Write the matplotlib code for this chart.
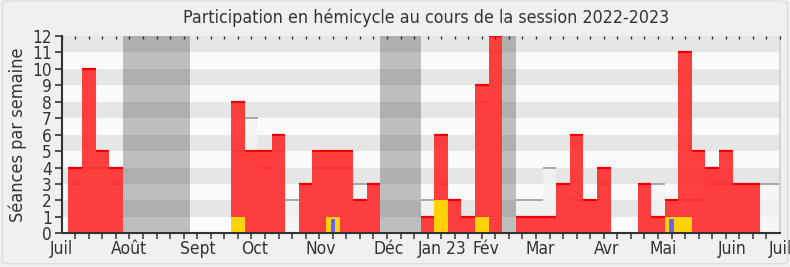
import matplotlib
matplotlib.use("Agg")
import matplotlib.pyplot as plt
from matplotlib.patches import FancyBboxPatch

plt.rcParams['font.family'] = ['DejaVu Sans']
plt.rcParams['font.stretch'] = 'condensed'

# ---- data -------------------------------------------------------------
weeks = list(range(1, 54))
presence = [4, 10, 5, 4, 0, 0, 0, 0, 0, 0, 0, 0, 8, 5, 5, 6, 0, 3, 5, 5,
            5, 2, 3, 0, 0, 0, 1, 6, 2, 1, 9, 12, 0, 1, 1, 1, 3, 6, 2, 4,
            0, 0, 3, 1, 2, 11, 5, 4, 5, 3, 3, 0, 0]
interventions = [0, 0, 0, 0, 0, 0, 0, 0, 0, 0, 0, 0, 1, 0, 0, 0, 0, 0, 0, 1,
                 0, 0, 0, 0, 0, 0, 0, 2, 0, 0, 1, 0, 0, 0, 0, 0, 0, 0, 0, 0,
                 0, 0, 0, 0, 1, 1, 0, 0, 0, 0, 0, 0, 0]
questions = [0, 0, 0, 0, 0, 0, 0, 0, 0, 0, 0, 0, 0, 0, 0, 0, 0, 0, 0, 0.9,
             0, 0, 0, 0, 0, 0, 0, 0, 0, 0, 0, 0, 0, 0, 0, 0, 0, 0, 0, 0,
             0, 0, 0, 0, 0.9, 0, 0, 0, 0, 0, 0, 0, 0]
mediane = [3, 4, 4, 3, 0, 0, 0, 0, 0, 0, 0, 0, 5, 7, 4, 5, 2, 3, 4, 4,
           4, 3, 3, 0, 0, 0, 2, 3, 2, 1, 8, 11, 0, 2, 2, 4, 3, 2, 2, 3,
           0, 0, 3, 3, 2, 2, 2, 3, 3, 3, 3, 3, 3]
vacances = [5, 6, 7, 8, 9, 24, 25, 26, 33]
month_labels = ['Juil', 'Août', 'Sept', 'Oct', 'Nov', 'Déc', 'Jan 23', 'Fév',
                'Mar', 'Avr', 'Mai', 'Juin', 'Juil']
month_pos = [0, 4.95, 10.05, 14.2, 19.1, 24.1, 28.05, 31.3, 35.3, 40.2, 44.4,
             49.5, 53.0]
y_max = 12
n_weeks = 53

# ---- figure -----------------------------------------------------------
fig = plt.figure(figsize=(7.9, 2.67), dpi=100)
fig.patch.set_facecolor('#f0f0f0')
fig.patches.append(FancyBboxPatch((0.003, 0.012), 0.994, 0.984,
                                  boxstyle="round,pad=0,rounding_size=0.01",
                                  transform=fig.transFigure, fc='none',
                                  ec='#dcdcdc', lw=1.0))
ax = fig.add_axes([0.0781, 0.126, 0.9092, 0.739])
ax.set_facecolor('#fafafa')
ax.set_xlim(0, n_weeks)
ax.set_ylim(0, y_max)

# background stripes
for r in range(1, y_max, 2):
    ax.axhspan(r, r + 1, color='#e6e6e6', lw=0, zorder=0)

# median bars
ax.bar(weeks, mediane, width=1.0, color='#f4f4f4', alpha=0.75, lw=0,
       antialiased=False, zorder=1)
med_w = [w for w, m in zip(weeks, mediane) if m > 0]
med_v = [m for m in mediane if m > 0]
ax.hlines(med_v, [w - 0.5 for w in med_w], [w + 0.5 for w in med_w],
          colors='#a8a8a8', lw=1.4, zorder=1.5)

# vacations
ax.bar(vacances, [y_max] * len(vacances), width=1.0, color='black',
       alpha=0.24, lw=0, antialiased=False, zorder=2)

# presence
ax.bar(weeks, presence, width=1.0, color='#ff2a2a', alpha=0.9, lw=0,
       antialiased=False, zorder=3)
pr_w = [w for w, p in zip(weeks, presence) if p > 0]
pr_v = [p for p in presence if p > 0]
ax.hlines(pr_v, [w - 0.5 for w in pr_w], [w + 0.5 for w in pr_w],
          colors='#ee0000', lw=1.6, zorder=3.5)

# interventions
ax.bar(weeks, interventions, width=1.0, color='#ffd20a', lw=0,
       antialiased=False, zorder=4)
# questions
ax.bar(weeks, questions, width=0.33, color='#6666ff', lw=0,
       antialiased=False, zorder=5)

# axes styling
ax.spines['top'].set_visible(False)
ax.spines['right'].set_color('#cfcfcf')
ax.spines['right'].set_linewidth(1.2)
for s in ['left', 'bottom']:
    ax.spines[s].set_color('#333333')
    ax.spines[s].set_linewidth(1.5)
    ax.spines[s].set_zorder(10)

ax.set_yticks(range(0, y_max + 1))
ax.tick_params(axis='y', length=5, width=1.2, color='#333333',
               labelsize=12.3, labelcolor='#333333', pad=2)
ax.set_xticks(month_pos)
ax.set_xticklabels(month_labels)
ax.set_xticks(range(0, n_weeks + 1), minor=True)
ax.tick_params(axis='x', which='major', length=0, labelsize=12.5,
               labelcolor='#333333', pad=5)
ax.tick_params(axis='x', which='minor', length=4, width=1.1, color='#333333')

top = ax.twiny()
top.set_xlim(ax.get_xlim())
top.set_xticks(range(0, n_weeks + 1))
top.tick_params(axis='x', direction='in', length=2, width=1.0,
                color='#333333', labeltop=False)
for s in top.spines.values():
    s.set_visible(False)

ax.set_ylabel('Séances par semaine', fontsize=13, color='#333333', labelpad=4)
fig.text(0.539, 0.935, 'Participation en hémicycle au cours de la session 2022-2023',
         ha='center', va='center', fontsize=12.8, color='#333333')

fig.savefig('out.png', dpi=100, facecolor=fig.get_facecolor())
